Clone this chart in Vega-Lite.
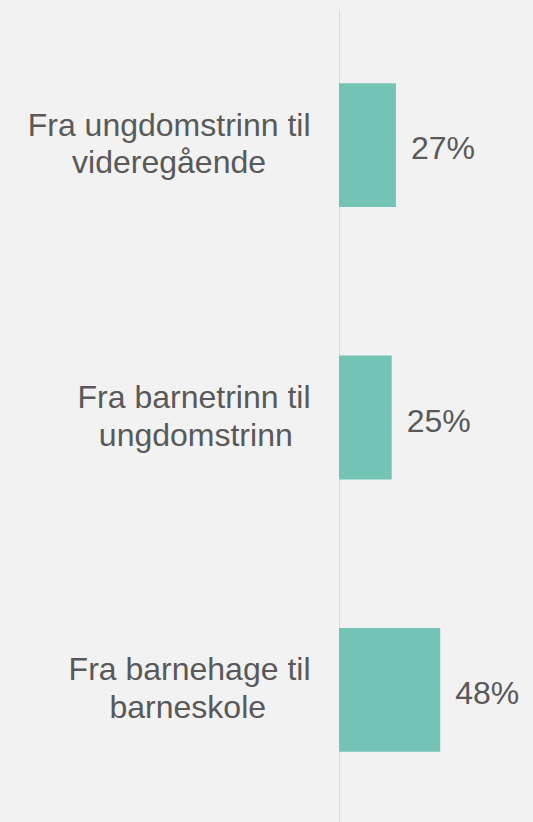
{
  "$schema": "https://vega.github.io/schema/vega-lite/v6.json",
  "width": 194,
  "height": 817,
  "autosize": "none",
  "padding": {"left": 339, "top": 9, "right": 0, "bottom": 0},
  "background": "#f2f2f2",
  "config": {"view": {"stroke": null}, "font": "Liberation Sans"},
  "data": {
    "values": [
      {"kategori": "Fra ungdomstrinn til videregående", "andel": 0.27},
      {"kategori": "Fra barnetrinn til ungdomstrinn", "andel": 0.25},
      {"kategori": "Fra barnehage til barneskole", "andel": 0.48}
    ]
  },
  "encoding": {
    "y": {
      "field": "kategori",
      "type": "nominal",
      "sort": null,
      "scale": {"paddingInner": 0.545, "paddingOuter": 0.2725},
      "axis": {
        "title": null,
        "ticks": false,
        "domain": true,
        "domainColor": "#dcdcdc",
        "domainWidth": 1,
        "labelFontSize": 32,
        "labelColor": "#595959",
        "labelPadding": 29,
        "labelLineHeight": 37.5,
        "labelOffset": -19.5,
        "labelAlign": "right",
        "labelLimit": 0,
        "labelExpr": "datum.value == 'Fra ungdomstrinn til videregående' ? ['Fra ungdomstrinn til', 'videregående\u00a0\u00a0\u00a0\u00a0\u00a0\u200b'] : datum.value == 'Fra barnetrinn til ungdomstrinn' ? ['Fra barnetrinn til', 'ungdomstrinn\u00a0\u00a0\u200b'] : ['Fra barnehage til', 'barneskole\u00a0\u00a0\u00a0\u00a0\u00a0\u200b']"
      }
    },
    "x": {
      "field": "andel",
      "type": "quantitative",
      "scale": {"domain": [0, 0.92]},
      "axis": null
    }
  },
  "layer": [
    {"mark": {"type": "bar", "color": "#73c4b4"}},
    {
      "mark": {"type": "text", "align": "left", "dx": 15, "dy": 4, "fontSize": 32, "color": "#595959", "baseline": "middle"},
      "encoding": {"text": {"field": "andel", "format": ".0%"}}
    }
  ]
}
